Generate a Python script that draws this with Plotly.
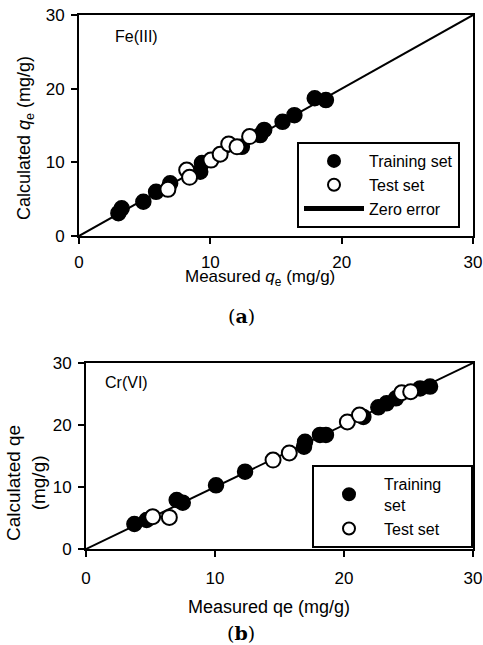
import plotly.graph_objects as go

W, H = 483, 645

# ---- Data: panel (a) Fe(III) ----
fe_train_meas = [3.0, 3.25, 4.9, 5.87, 6.94, 9.23, 9.36, 12.4, 13.8, 14.1, 15.5, 16.4, 17.95, 18.8]
fe_train_calc = [3.1, 3.75, 4.65, 6.0, 7.15, 8.73, 9.9, 12.1, 13.7, 14.4, 15.5, 16.4, 18.7, 18.45]
fe_test_meas = [6.77, 8.2, 8.42, 10.05, 10.75, 11.4, 12.03, 12.99]
fe_test_calc = [6.33, 8.96, 7.96, 10.3, 11.1, 12.5, 12.1, 13.5]

# ---- Data: panel (b) Cr(VI) ----
cr_train_meas = [3.75, 4.7, 7.03, 7.5, 10.08, 12.33, 16.9, 16.98, 18.14, 18.6, 21.5, 22.66, 23.3, 24.03, 25.9, 26.67]
cr_train_calc = [4.03, 4.68, 7.9, 7.47, 10.27, 12.47, 16.5, 17.3, 18.4, 18.4, 21.3, 22.85, 23.5, 24.3, 25.9, 26.2]
cr_test_meas = [5.17, 6.46, 14.5, 15.76, 20.26, 21.2, 24.47, 25.17]
cr_test_calc = [5.2, 5.1, 14.35, 15.5, 20.5, 21.6, 25.2, 25.37]

zero_line = [0, 30]
ticks = [0, 10, 20, 30]

FONT = "Liberation Sans, Arial, sans-serif"
MS = 15
PAD = "&nbsp;" * 6

fig = go.Figure()

# panel (a)
fig.add_trace(go.Scatter(x=zero_line, y=zero_line, mode="lines", name="Zero error",
                         line=dict(color="black", width=2), xaxis="x", yaxis="y",
                         legend="legend", legendrank=3))
fig.add_trace(go.Scatter(x=fe_train_meas, y=fe_train_calc, mode="markers", name="Training set",
                         marker=dict(size=MS, color="black", line=dict(color="black", width=1.5)),
                         xaxis="x", yaxis="y", legend="legend", legendrank=1))
fig.add_trace(go.Scatter(x=fe_test_meas, y=fe_test_calc, mode="markers", name="Test set",
                         marker=dict(size=MS, color="white", line=dict(color="black", width=2)),
                         xaxis="x", yaxis="y", legend="legend", legendrank=2))

# panel (b)
fig.add_trace(go.Scatter(x=zero_line, y=zero_line, mode="lines", name="Zero error",
                         line=dict(color="black", width=2), xaxis="x2", yaxis="y2",
                         showlegend=False))
fig.add_trace(go.Scatter(x=cr_train_meas, y=cr_train_calc, mode="markers", name="Training<br>set",
                         marker=dict(size=MS, color="black", line=dict(color="black", width=1.5)),
                         xaxis="x2", yaxis="y2", legend="legend2", legendrank=1))
fig.add_trace(go.Scatter(x=cr_test_meas, y=cr_test_calc, mode="markers", name="Test set" + PAD,
                         marker=dict(size=MS, color="white", line=dict(color="black", width=2)),
                         xaxis="x2", yaxis="y2", legend="legend2", legendrank=2))

axis_common = dict(range=[0, 30], tickvals=ticks, showgrid=False, zeroline=False,
                   showline=True, linecolor="black", linewidth=2, mirror=True,
                   ticks="outside", ticklen=6, tickwidth=2, tickcolor="black",
                   automargin=False,
                   tickfont=dict(family=FONT, size=17, color="black"))

legend_common = dict(xanchor="right", yanchor="top", bgcolor="white", bordercolor="black",
                     borderwidth=2, font=dict(family=FONT, size=16, color="black"),
                     itemsizing="constant", tracegroupgap=0)

fig.update_layout(
    width=W, height=H,
    margin=dict(l=0, r=0, t=0, b=0, pad=0, autoexpand=False),
    paper_bgcolor="white", plot_bgcolor="white",
    font=dict(family=FONT, color="black", size=17),
    xaxis=dict(domain=[79 / W, 473 / W], anchor="y", ticklabelstandoff=4, **axis_common),
    yaxis=dict(domain=[1 - 236 / H, 1 - 15 / H], anchor="x", ticklabelstandoff=3, **axis_common),
    xaxis2=dict(domain=[86 / W, 473 / W], anchor="y2", ticklabelstandoff=7, **axis_common),
    yaxis2=dict(domain=[1 - 549 / H, 1 - 363 / H], anchor="x2", ticklabelstandoff=3, **axis_common),
    legend=dict(x=460 / W, y=1 - 142 / H, itemwidth=60, **legend_common),
    legend2=dict(x=473 / W, y=1 - 465 / H, itemwidth=60, **legend_common),
    showlegend=True,
)

ann = [
    dict(text="Fe(III)", x=2.6, y=27.1, xref="x", yref="y", xanchor="left", yanchor="middle",
         font=dict(size=16)),
    dict(text="Cr(VI)", x=1.3, y=26.9, xref="x2", yref="y2", xanchor="left", yanchor="middle",
         font=dict(size=16)),
    dict(text="Calculated <i>q</i><sub>e</sub> (mg/g)", x=25 / W, y=1 - 138 / H, xref="paper",
         yref="paper", textangle=-90, xanchor="center", yanchor="middle", font=dict(size=18)),
    dict(text="Measured <i>q</i><sub>e</sub> (mg/g)", x=260 / W, y=1 - 278 / H, xref="paper",
         yref="paper", xanchor="center", yanchor="middle", font=dict(size=17)),
    dict(text="(<b>a</b>)", x=241 / W, y=1 - 316 / H, xref="paper", yref="paper",
         xanchor="center", yanchor="middle", font=dict(family="DejaVu Serif, serif", size=19)),
    dict(text="Calculated qe<br>(mg/g)", x=26 / W, y=1 - 483 / H, xref="paper", yref="paper",
         textangle=-90, xanchor="center", yanchor="middle", font=dict(size=19)),
    dict(text="Measured qe (mg/g)", x=269 / W, y=1 - 607 / H, xref="paper", yref="paper",
         xanchor="center", yanchor="middle", font=dict(size=18)),
    dict(text="(<b>b</b>)", x=241 / W, y=1 - 633 / H, xref="paper", yref="paper",
         xanchor="center", yanchor="middle", font=dict(family="DejaVu Serif, serif", size=19)),
]
for a in ann:
    a["showarrow"] = False
fig.update_layout(annotations=ann)

fig.write_html("out.html")
